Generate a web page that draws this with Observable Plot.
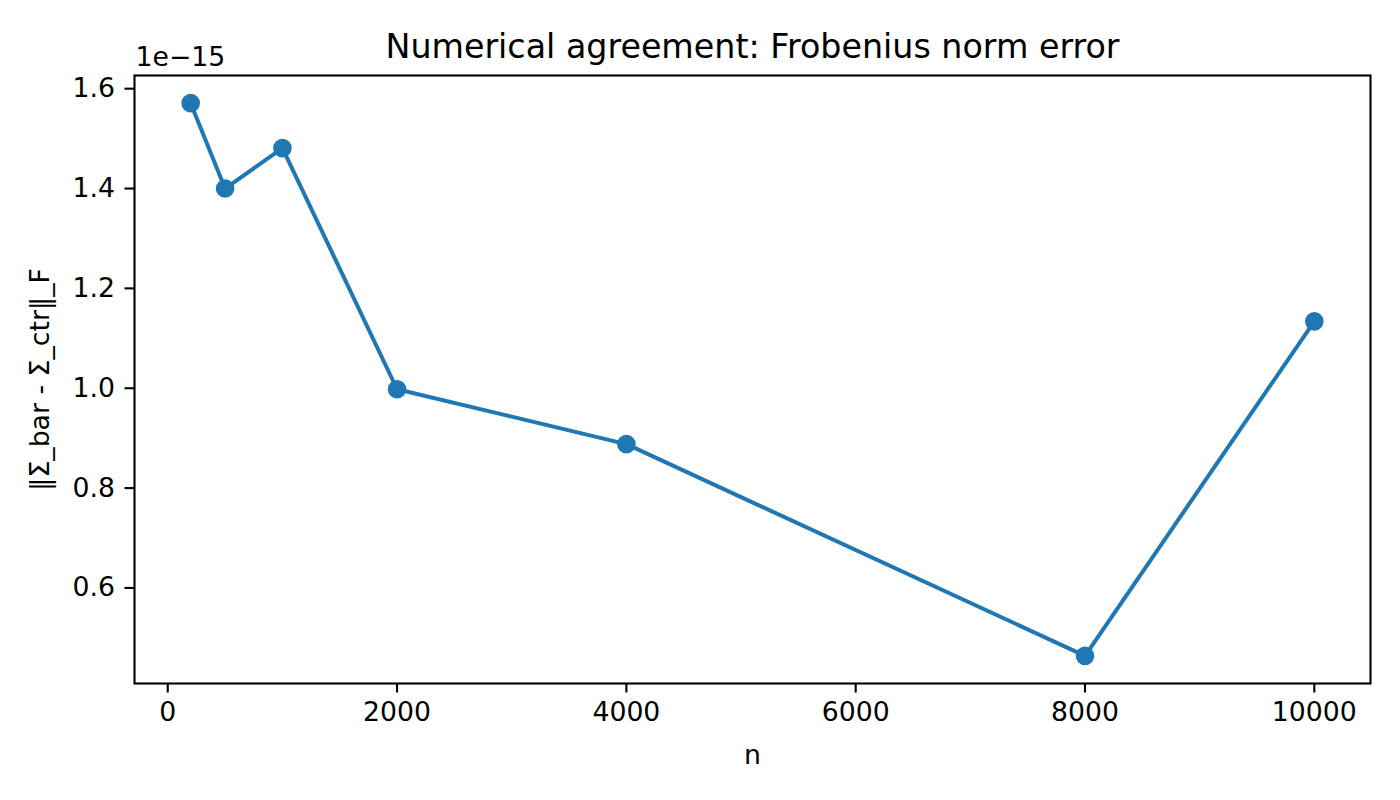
<!DOCTYPE html>
<html>
<head>
<meta charset="utf-8">
<script src="https://cdn.jsdelivr.net/npm/d3@7"></script>
<script src="https://cdn.jsdelivr.net/npm/@observablehq/plot@0.6"></script>
<style>
  html, body { margin: 0; padding: 0; background: white; }
  svg { display: block; }
</style>
</head>
<body>
<div id="chart"></div>
<script>
// Data
const n = [200, 500, 1000, 2000, 4000, 8000, 10000];
const frobError = [1.571e-15, 1.400e-15, 1.481e-15, 0.998e-15, 0.888e-15, 0.464e-15, 1.134e-15];
const xTicks = [0, 2000, 4000, 6000, 8000, 10000];
const yTicks = [0.6, 0.8, 1.0, 1.2, 1.4, 1.6];
const titleText = "Numerical agreement: Frobenius norm error";
const xLabel = "n";
const yLabel = "‖Σ_bar - Σ_ctr‖_F";
const offsetText = "1e\u221215";
const scaleExp = 1e15;

const data = n.map((v, i) => ({n: v, err: frobError[i] * scaleExp}));

const blue = "#1f77b4";
const fs = 26.7;

const chart = Plot.plot({
  width: 1400,
  height: 800,
  marginLeft: 134,
  marginRight: 30,
  marginTop: 75,
  marginBottom: 117,
  style: {fontFamily: "DejaVu Sans", fontSize: fs + "px", background: "white", color: "black"},
  x: {domain: [-290, 10490]},
  y: {domain: [0.4086, 1.6264]},
  marks: [
    Plot.frame({stroke: "black", strokeWidth: 2.1}),
    Plot.axisX({ticks: xTicks, tickSize: 9.5, tickPadding: 9, tickFormat: d => String(d), fontSize: fs, strokeWidth: 2.1, label: null}),
    Plot.axisY({ticks: yTicks, tickSize: 9.5, tickPadding: 10, tickFormat: d => d.toFixed(1), fontSize: fs, strokeWidth: 2.1, label: null}),
    Plot.line(data, {x: "n", y: "err", stroke: blue, strokeWidth: 4}),
    Plot.dot(data, {x: "n", y: "err", r: 9.3, fill: blue, stroke: "none"}),
    Plot.text([titleText], {text: d => d, frameAnchor: "top", dy: -28, fontSize: 33.3, lineAnchor: "middle", fill: "black"}),
    Plot.text([xLabel], {text: d => d, frameAnchor: "bottom", dy: 72, fontSize: fs, lineAnchor: "middle", fill: "black"}),
    Plot.text([yLabel], {text: d => d, frameAnchor: "left", dx: -94, rotate: -90, fontSize: fs, lineAnchor: "middle", textAnchor: "middle", fill: "black"}),
    Plot.text([offsetText], {text: d => d, frameAnchor: "top-left", dx: 1, dy: -18, fontSize: fs, lineAnchor: "middle", textAnchor: "start", fill: "black"})
  ]
});
document.getElementById("chart").appendChild(chart);
</script>
</body>
</html>
